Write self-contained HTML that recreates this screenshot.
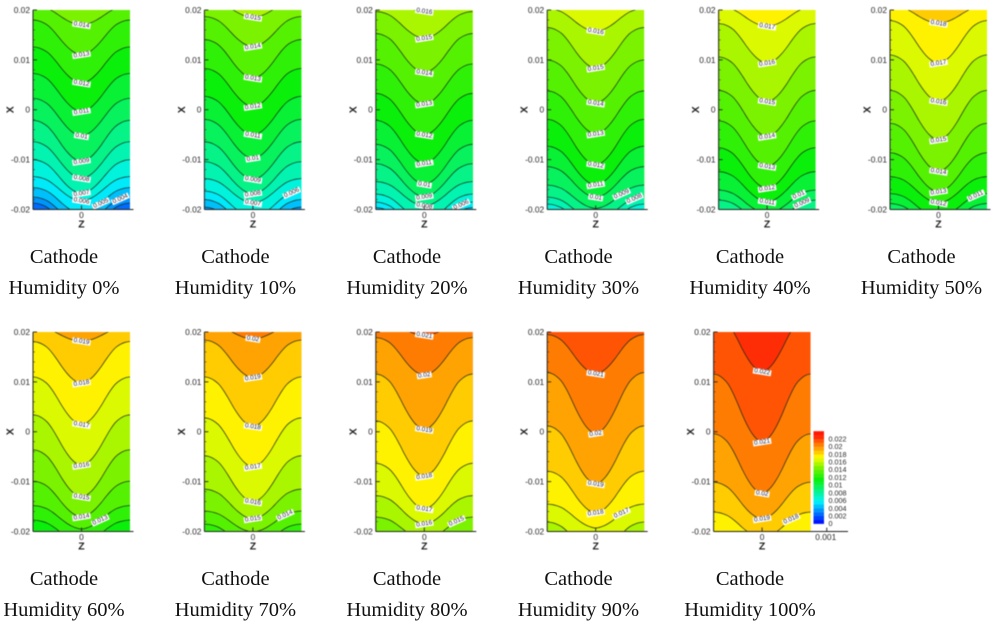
<!DOCTYPE html>
<html lang="en">
<head>
<meta charset="utf-8">
<title>Cathode humidity contour plots</title>
<style>
html,body{margin:0;padding:0;background:#fff;}
svg{display:block;}
.cap{font-family:"Liberation Serif",serif;font-size:20.5px;fill:#111;text-anchor:middle;}
.tick{font-family:"Liberation Sans",sans-serif;font-size:8.4px;fill:#2a2a2a;}
.axt{font-family:"Liberation Sans",sans-serif;font-size:10.5px;font-weight:bold;fill:#222;}
.lab{font-family:"Liberation Sans",sans-serif;font-size:6.4px;fill:#223;text-anchor:middle;dominant-baseline:central;}
.plot{filter:blur(0.45px);}
</style>
</head>
<body>
<svg id="chart" xmlns="http://www.w3.org/2000/svg" width="1000" height="626" viewBox="0 0 1000 626">
<rect width="1000" height="626" fill="#fff"/>
<g id="plots"></g>
<g id="captions">
<text class="cap" x="64" y="263">Cathode</text>
<text class="cap" x="64" y="294">Humidity 0%</text>
<text class="cap" x="235.4" y="263">Cathode</text>
<text class="cap" x="235.4" y="294">Humidity 10%</text>
<text class="cap" x="407" y="263">Cathode</text>
<text class="cap" x="407" y="294">Humidity 20%</text>
<text class="cap" x="578.5" y="263">Cathode</text>
<text class="cap" x="578.5" y="294">Humidity 30%</text>
<text class="cap" x="750" y="263">Cathode</text>
<text class="cap" x="750" y="294">Humidity 40%</text>
<text class="cap" x="921.5" y="263">Cathode</text>
<text class="cap" x="921.5" y="294">Humidity 50%</text>
<text class="cap" x="64" y="585">Cathode</text>
<text class="cap" x="64" y="616">Humidity 60%</text>
<text class="cap" x="235.4" y="585">Cathode</text>
<text class="cap" x="235.4" y="616">Humidity 70%</text>
<text class="cap" x="407" y="585">Cathode</text>
<text class="cap" x="407" y="616">Humidity 80%</text>
<text class="cap" x="578.5" y="585">Cathode</text>
<text class="cap" x="578.5" y="616">Humidity 90%</text>
<text class="cap" x="750" y="585">Cathode</text>
<text class="cap" x="750" y="616">Humidity 100%</text>
</g>
</svg>
<script>
// ---- chart data ----
var panelLevels = [
  [0.014,0.013,0.012,0.011,0.01,0.009,0.008,0.007,0.006,0.005,0.004,0.003],
  [0.015,0.014,0.013,0.012,0.011,0.01,0.009,0.008,0.007,0.006,0.005,0.004],
  [0.016,0.015,0.014,0.013,0.012,0.011,0.01,0.009,0.008,0.007,0.006,0.005],
  [0.016,0.015,0.014,0.013,0.012,0.011,0.01,0.009,0.008,0.007],
  [0.017,0.016,0.015,0.014,0.013,0.012,0.011,0.01,0.009],
  [0.018,0.017,0.016,0.015,0.014,0.013,0.012,0.011,0.01],
  [0.019,0.018,0.017,0.016,0.015,0.014,0.013,0.012],
  [0.02,0.019,0.018,0.017,0.016,0.015,0.014,0.013],
  [0.021,0.02,0.019,0.018,0.017,0.016,0.015],
  [0.021,0.02,0.019,0.018,0.017,0.016],
  [0.022,0.021,0.02,0.019,0.018]
];
// x value of each contour at the side walls of the panel
var edgeX = [
  [0.0209,0.0180,0.0126,0.0073,0.0023,-0.0021,-0.0064,-0.0100,-0.0134,-0.0156,-0.0175,-0.0187],
  [0.0223,0.0187,0.0141,0.0083,0.0027,-0.0019,-0.0064,-0.0104,-0.0138,-0.0163,-0.0180,-0.0195],
  [0.0225,0.0197,0.0153,0.0092,0.0033,-0.0021,-0.0069,-0.0108,-0.0144,-0.0169,-0.0185,-0.0196],
  [0.0203,0.0165,0.0100,0.0038,-0.0019,-0.0073,-0.0114,-0.0151,-0.0175,-0.0189],
  [0.0207,0.0173,0.0106,0.0039,-0.0022,-0.0076,-0.0124,-0.0161,-0.0181],
  [0.0209,0.0179,0.0110,0.0039,-0.0027,-0.0086,-0.0134,-0.0168,-0.0188],
  [0.0211,0.0181,0.0110,0.0034,-0.0036,-0.0099,-0.0148,-0.0177],
  [0.0218,0.0184,0.0110,0.0028,-0.0048,-0.0115,-0.0159,-0.0185],
  [0.0223,0.0189,0.0116,0.0022,-0.0063,-0.0128,-0.0171],
  [0.0195,0.0119,0.0012,-0.0079,-0.0145,-0.0181],
  [0.0234,0.0116,-0.0004,-0.0101,-0.0161]
];
// x value of each contour on the centre line z = 0
var centerX = [
  [0.0170,0.0110,0.0053,-0.0004,-0.0053,-0.0104,-0.0138,-0.0168,-0.0183,-0.0208,-0.0228,-0.0248],
  [0.0185,0.0126,0.0063,0.0006,-0.0051,-0.0098,-0.0140,-0.0169,-0.0187,-0.0215,-0.0235,-0.0255],
  [0.0197,0.0143,0.0074,0.0011,-0.0051,-0.0108,-0.0150,-0.0175,-0.0193,-0.0221,-0.0241,-0.0256],
  [0.0157,0.0083,0.0013,-0.0049,-0.0111,-0.0151,-0.0176,-0.0198,-0.0221,-0.0241],
  [0.0167,0.0093,0.0016,-0.0054,-0.0114,-0.0158,-0.0185,-0.0208,-0.0228],
  [0.0173,0.0093,0.0016,-0.0061,-0.0124,-0.0165,-0.0187,-0.0215,-0.0235],
  [0.0181,0.0097,0.0014,-0.0068,-0.0131,-0.0171,-0.0195,-0.0221],
  [0.0186,0.0108,0.0010,-0.0071,-0.0141,-0.0175,-0.0201,-0.0231],
  [0.0193,0.0113,0.0004,-0.0090,-0.0155,-0.0185,-0.0216],
  [0.0116,-0.0004,-0.0105,-0.0163,-0.0193,-0.0244],
  [0.0120,-0.0021,-0.0124,-0.0175,-0.0213]
];
// shape of a contour from z = 0 (0) to the wall (1), eleven equal steps in |z|
var contourProfile = [0,0.04,0.12,0.24,0.39,0.56,0.72,0.85,0.93,0.98,1];
// contours whose printed value sits off the centre line, and where
var sideLabelLevels = [[0.005,0.004],[0.006],[0.006],[0.009,0.008],[0.01,0.009],[0.011],[0.013],[0.014],[0.015],[0.017],[0.018]];
var sideLabelZ = [[0.0003,0.0006],[0.0006],[0.00057],[0.0004,0.0006],[0.00049,0.00054],[0.00058],[0.00029],[0.0005],[0.0005],[0.0004],[0.00045]];
var centerSkip = [[0.005,0.004,0.003],[0.006,0.005,0.004],[0.007,0.006,0.005],[0.009,0.008,0.007],[0.01,0.009],[0.011,0.01],[0.013,0.012],[0.014,0.013],[0.015],[0.017,0.016],[0.018]];
var xTicks = [0.02,0.01,0,-0.01,-0.02];
var xTickLabels = ["0.02","0.01","0","-0.01","-0.02"];
var xMinorTicks = [0.018,0.016,0.014,0.012,0.008,0.006,0.004,0.002,-0.002,-0.004,-0.006,-0.008,-0.012,-0.014,-0.016,-0.018];
var colorbarLevels = [0,0.001,0.002,0.003,0.004,0.005,0.006,0.007,0.008,0.009,0.01,0.011,0.012,0.013,0.014,0.015,0.016,0.017,0.018,0.019,0.02,0.021,0.022,0.023];
var colorbarTicks = [0,0.002,0.004,0.006,0.008,0.01,0.012,0.014,0.016,0.018,0.02,0.022];
var colorbarTickLabels = ["0","0.002","0.004","0.006","0.008","0.01","0.012","0.014","0.016","0.018","0.02","0.022"];

// ---- scales ----
var NS = 'http://www.w3.org/2000/svg';
var zMax = 0.00075, xMax = 0.02;
var plotW = 97, plotH = 199.5;
var colorStops = [[0,0,0,255],[0.00575,0,245,250],[0.0115,10,240,10],[0.0145,122,242,0],[0.01725,255,252,0],[0.023,255,25,5]];

function colorFor(v){
  for(var i=1;i<colorStops.length;i++){
    if(v<=colorStops[i][0]){
      var a=colorStops[i-1],b=colorStops[i],t=(v-a[0])/(b[0]-a[0]);
      return 'rgb('+Math.round(a[1]+(b[1]-a[1])*t)+','+Math.round(a[2]+(b[2]-a[2])*t)+','+Math.round(a[3]+(b[3]-a[3])*t)+')';
    }
  }
  var l=colorStops[colorStops.length-1];
  return 'rgb('+l[1]+','+l[2]+','+l[3]+')';
}
function mk(tag,parent,attrs){
  var e=document.createElementNS(NS,tag);
  for(var k in attrs){e.setAttribute(k,attrs[k]);}
  parent.appendChild(e);
  return e;
}
function panelOrigin(i){
  var col = i<6 ? i : i-6, row = i<6 ? 0 : 1;
  var left = 33 + col*171.4;
  if(i===10){left -= 5;}
  return {left:left, top: row===0 ? 10 : 332};
}
function profileAt(t){
  var p=Math.min(Math.abs(t),1)*(contourProfile.length-1);
  var k=Math.min(Math.floor(p),contourProfile.length-2);
  return contourProfile[k]+(contourProfile[k+1]-contourProfile[k])*(p-k);
}
function curveX(edge,center,z){
  return center+(edge-center)*profileAt(z/zMax);
}
function smoothPath(pts){
  var d='M'+pts[0][0].toFixed(2)+' '+pts[0][1].toFixed(2);
  for(var i=0;i<pts.length-1;i++){
    var p0=pts[Math.max(i-1,0)],p1=pts[i],p2=pts[i+1],p3=pts[Math.min(i+2,pts.length-1)];
    d+=' C'+(p1[0]+(p2[0]-p0[0])/6).toFixed(2)+' '+(p1[1]+(p2[1]-p0[1])/6).toFixed(2)+' '+
       (p2[0]-(p3[0]-p1[0])/6).toFixed(2)+' '+(p2[1]-(p3[1]-p1[1])/6).toFixed(2)+' '+
       p2[0].toFixed(2)+' '+p2[1].toFixed(2);
  }
  return d;
}

// ---- drawing ----
var root=document.getElementById('plots');

function drawPanel(i){
  var o=panelOrigin(i);
  function xScale(x){return o.top+(xMax-x)/(2*xMax)*plotH;}
  function zScale(z){return o.left+plotW/2+z/zMax*plotW/2;}
  var levels=panelLevels[i];
  var g=mk('g',root,{'class':'plot'});
  
  
  var clipId='clip-'+i;
  var defs=mk('defs',g,{});
  var cp=mk('clipPath',defs,{id:clipId});
  mk('rect',cp,{x:o.left,y:o.top,width:plotW,height:plotH});
  var field=mk('g',g,{'clip-path':'url(#'+clipId+')'});
  
  
  var bg=mk('rect',field,{x:o.left,y:o.top,width:plotW,height:plotH,fill:colorFor(levels[0]+0.0005)});
  
  

  var curves=[];
  levels.forEach(function(level,j){
    var pts=[];
    var n=contourProfile.length-1;
    for(var s=-n;s<=n;s++){
      var z=s/n*zMax;
      pts.push([zScale(z),xScale(curveX(edgeX[i][j],centerX[i][j],z))]);
    }
    curves.push(smoothPath(pts));
    var area=mk('path',field,{d:curves[j]+' L'+(o.left+plotW)+' '+(o.top+plotH+80)+' L'+o.left+' '+(o.top+plotH+80)+' Z',fill:colorFor(level-0.0005)});
    
    
  });
  levels.forEach(function(level,j){
    var line=mk('path',field,{d:curves[j],fill:'none',stroke:'rgba(20,35,25,0.85)','stroke-width':0.8});
    
    
  });

  // value labels on contours
  function addLabel(level,z,rot){
    var j=levels.indexOf(level);
    if(j<0){return;}
    var px=zScale(z),py=xScale(curveX(edgeX[i][j],centerX[i][j],z));
    var lg=mk('g',g,{transform:'translate('+px.toFixed(2)+' '+py.toFixed(2)+') rotate('+rot+')'});
    
    
    var txt=String(level);
    mk('rect',lg,{x:-(txt.length*1.75+0.4),y:-2.9,width:txt.length*3.5+0.8,height:5.8,fill:'#fff'});
    var t=mk('text',lg,{'class':'lab',x:0,y:0});
    t.textContent=txt;
  }
  levels.forEach(function(level,j){
    if(centerSkip[i].indexOf(level)>=0){return;}
    addLabel(level,0,j%2===0?9:-9);
  });
  sideLabelLevels[i].forEach(function(level,k){
    addLabel(level,sideLabelZ[i][k],-24);
  });

  // axes
  var yAxis=mk('line',g,{x1:o.left,x2:o.left,y1:o.top,y2:o.top+plotH,stroke:'#222','stroke-width':1});
  
  
  xTicks.forEach(function(v,k){
    var y=xScale(v);
    var tk=mk('line',g,{x1:o.left,x2:o.left+4,y1:y,y2:y,stroke:'#222','stroke-width':0.9});
    
    
    var lb=mk('text',g,{'class':'tick',x:o.left-3,y:y+2.9,'text-anchor':'end'});
    
    
    lb.textContent=xTickLabels[k];
  });
  xMinorTicks.forEach(function(v){
    var y=xScale(v);
    var tk=mk('line',g,{x1:o.left,x2:o.left+2,y1:y,y2:y,stroke:'#333','stroke-width':0.6});
    
    
  });
  var xt=mk('text',g,{'class':'axt',x:0,y:0,'text-anchor':'middle',transform:'translate('+(o.left-19.5)+' '+xScale(0)+') rotate(-90)'});
  
  
  xt.textContent='X';

  var axisEnd = i===10 ? 848 : o.left+plotW+3.5;
  var zAxis=mk('line',g,{x1:o.left,x2:axisEnd,y1:o.top+plotH,y2:o.top+plotH,stroke:'#222','stroke-width':1});
  
  
  var zt=mk('line',g,{x1:zScale(0),x2:zScale(0),y1:o.top+plotH,y2:o.top+plotH-4,stroke:'#222','stroke-width':0.9});
  
  
  var zl=mk('text',g,{'class':'tick',x:zScale(0),y:o.top+plotH+8.5,'text-anchor':'middle'});
  
  
  zl.textContent='0';
  var zn=mk('text',g,{'class':'axt',x:zScale(0),y:o.top+plotH+18,'text-anchor':'middle'});
  
  
  zn.textContent='Z';

  if(i===10){
    var zt2=mk('line',g,{x1:zScale(0.001),x2:zScale(0.001),y1:o.top+plotH,y2:o.top+plotH-4,stroke:'#222','stroke-width':0.9});
    
    
    var zl2=mk('text',g,{'class':'tick',x:zScale(0.001)-1,y:o.top+plotH+8.5,'text-anchor':'middle'});
    
    
    zl2.textContent='0.001';
  }
}

function drawColorbar(){
  var g=mk('g',root,{'class':'plot'});
  
  
  var barX=813.5,barW=10.5;
  function cScale(v){return 523.7-v*3855;}
  mk('rect',g,{x:barX-2,y:428,width:barW+36,height:99,fill:'#fff'});
  colorbarLevels.forEach(function(v){
    var s=mk('rect',g,{x:barX,y:cScale(v+0.001),width:barW,height:cScale(v)-cScale(v+0.001)+0.2,fill:colorFor(v+0.0005)});
    
    
  });
  colorbarTicks.forEach(function(v,k){
    var lb=mk('text',g,{'class':'tick',x:828.5,y:cScale(v)+2.5,style:'font-size:7.2px'});
    
    
    lb.textContent=colorbarTickLabels[k];
  });
}

panelLevels.forEach(function(_,i){drawPanel(i);});
drawColorbar();
</script>
</body>
</html>
